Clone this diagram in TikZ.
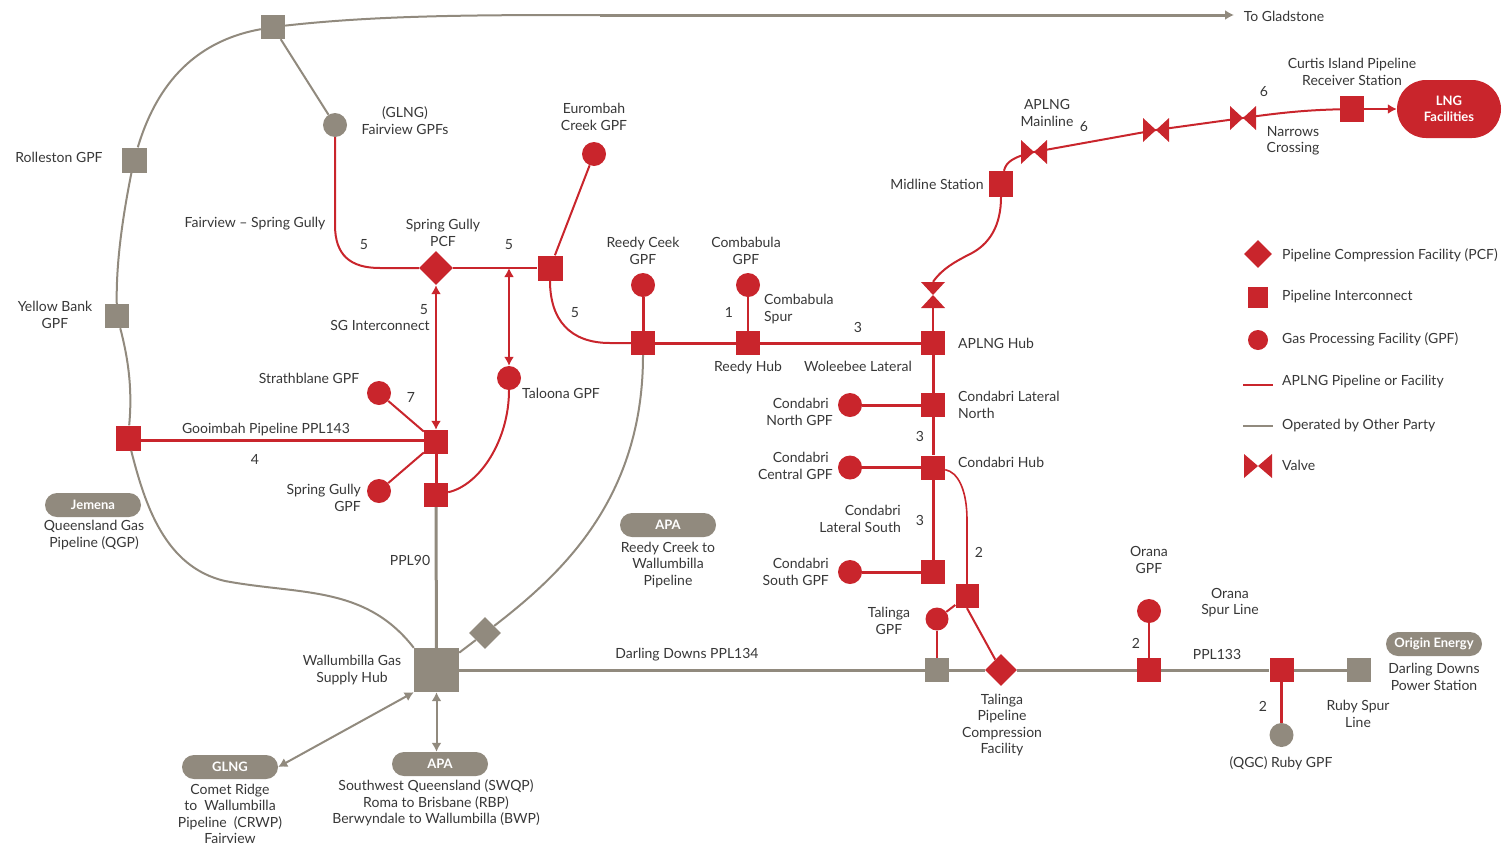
\documentclass[tikz,border=0pt]{standalone}
\usepackage{fontspec}
\setmainfont{Lato}
\definecolor{aplred}{RGB}{201, 37, 44}
\definecolor{othergray}{RGB}{145, 138, 126}
\definecolor{labeltext}{RGB}{55, 55, 55}
\usetikzlibrary{shapes.geometric, shapes.misc, arrows.meta, positioning}
\tikzset{
  lbl/.style={font=\fontsize{14}{16.5}\selectfont, text=labeltext, align=center, inner sep=0pt, yshift=-0.8pt},
  lblr/.style={lbl, anchor=east, align=right},
  lbll/.style={lbl, anchor=west, align=left},
  pill/.style={rounded rectangle, fill=othergray, text=white, minimum width=96pt, minimum height=24pt, inner sep=0pt, font=\fontsize{13}{14}\bfseries\selectfont},
  redsq/.style={rectangle, fill=aplred, minimum size=24pt, inner sep=0pt},
  graysq/.style={rectangle, fill=othergray, minimum size=24pt, inner sep=0pt},
  redgpf/.style={circle, fill=aplred, minimum size=24pt, inner sep=0pt},
  graygpf/.style={circle, fill=othergray, minimum size=24pt, inner sep=0pt},
  reddia/.style={diamond, fill=aplred, minimum size=34pt, inner sep=0pt},
  graydia/.style={diamond, fill=othergray, minimum size=32pt, inner sep=0pt},
  valveh/.style={rectangle, minimum width=26pt, minimum height=24pt, inner sep=0pt, path picture={
    \fill[aplred] (path picture bounding box.north west) -- (path picture bounding box.south east)
      -- (path picture bounding box.north east) -- (path picture bounding box.south west) -- cycle;}},
  valvev/.style={rectangle, minimum width=24pt, minimum height=26pt, inner sep=0pt, path picture={
    \fill[aplred] (path picture bounding box.north west) -- (path picture bounding box.north east)
      -- (path picture bounding box.south west) -- (path picture bounding box.south east) -- cycle;}},
  redpipe/.style={draw=aplred, line width=2pt},
  mainpipe/.style={draw=aplred, line width=3pt},
  graypipe/.style={draw=othergray, line width=2pt},
  thickgray/.style={draw=othergray, line width=3pt},
  twotip/.style={{Latex[length=9pt, width=10pt]}-{Latex[length=9pt, width=10pt]}},
  onetip/.style={-{Latex[length=9pt, width=10pt]}},
}

\begin{document}
\begin{tikzpicture}[x=1pt, y=-1pt]
  \useasboundingbox (0, 0) rectangle (1506, 846);

  % Other party stations
  \node[graysq] (topjunc) at (273, 27) {};
  \node[graysq, minimum size=25pt] (rolleston) at (134, 160) {};
  \node[graysq] (yellowbank) at (117, 316) {};
  \node[graygpf] (fairview) at (335, 125) {};
  \node[graysq, minimum width=45pt, minimum height=44pt] (wallumbilla) at (436.5, 670) {};
  \node[graydia] (apadia) at (485, 633) {};
  \node[graysq] (talgray) at (937, 670) {};
  \node[graysq] (darling) at (1359, 670) {};
  \node[graygpf] (ruby) at (1281.5, 735) {};
  \coordinate (glmid) at (600, 15);
  \coordinate (gladstone) at (1234, 15);

  % Pills
  \node[pill] (jemena) at (93, 505) {Jemena};
  \node[pill] (apareedy) at (668, 525) {APA};
  \node[pill] (origin) at (1434, 644) {Origin Energy};
  \node[pill] (glng) at (230, 767) {GLNG};
  \node[pill] (apasouth) at (440, 764) {APA};

  % APLNG west
  \node[redsq, minimum size=25pt] (gooimbah) at (128, 438) {};
  \node[reddia] (sgpcf) at (436, 268) {};
  \node[redsq, minimum size=25pt] (sgjunc) at (550, 268) {};
  \node[redgpf] (eurombah) at (594, 154) {};
  \node[redsq] (sgint) at (436, 442) {};
  \node[redsq] (ppl90end) at (436, 495) {};
  \node[redgpf] (strathblane) at (379, 393) {};
  \node[redgpf] (sgpf) at (379, 491) {};
  \node[redgpf] (taloona) at (509, 378) {};

  % APLNG centre
  \node[redgpf] (reedycirc) at (643, 285) {};
  \node[redsq] (reedysq) at (643, 343) {};
  \node[redgpf] (combcirc) at (748, 285) {};
  \node[redsq] (reedyhub) at (748, 343) {};
  \node[redsq] (aplnghub) at (933, 343) {};
  \node[valvev] (valveup) at (933, 295) {};
  \node[redsq] (lateralnth) at (933, 405) {};
  \node[redgpf] (condnth) at (850, 405) {};
  \node[redsq] (condhub) at (933, 467.5) {};
  \node[redgpf] (condcen) at (850, 467.5) {};
  \node[redsq] (lateralsth) at (933, 572) {};
  \node[redgpf] (condsth) at (850, 572) {};
  \node[redsq, minimum width=23pt] (talsq) at (967, 596) {};
  \node[redgpf, minimum size=23pt] (talcirc) at (937, 619) {};
  \node[reddia, minimum size=32pt] (taldia) at (1001, 670) {};
  \node[redgpf] (oranacirc) at (1149, 611) {};
  \node[redsq] (oranasq) at (1149, 670) {};
  \node[redsq] (rubysq) at (1281.5, 670) {};

  % APLNG mainline
  \node[redsq, minimum height=26pt] (midline) at (1001, 184) {};
  \node[valveh] (valvea) at (1034, 152) {};
  \node[valveh] (valveb) at (1156, 130) {};
  \node[valveh] (valvec) at (1243, 118) {};
  \node[redsq, minimum height=26pt] (receiver) at (1352, 109) {};
  \node[rounded rectangle, fill=aplred, minimum width=104pt, minimum height=58pt, inner sep=0pt, text=white, align=center,
    font=\fontsize{13}{16.5}\bfseries\selectfont] (lng) at (1449, 109) {LNG\\Facilities};

  % Gray pipelines
  \draw[graypipe] (topjunc) .. controls (380, 15) and (480, 15) .. (glmid);
  \draw[thickgray, onetip] (glmid) -- (gladstone);
  \draw[graypipe] (topjunc) -- (fairview);
  \draw[graypipe] (topjunc) .. controls (190, 42) and (155, 90) .. (rolleston);
  \draw[graypipe] (rolleston) .. controls (122, 220) and (116, 265) .. (yellowbank);
  \draw[graypipe] (yellowbank) .. controls (130, 365) and (132, 395) .. (gooimbah);
  \draw[graypipe] (gooimbah) .. controls (145, 505) and (165, 567) .. (225, 581) .. controls (300, 595) and (365, 585) .. (wallumbilla.north west);
  \draw[thickgray] (wallumbilla) -- (ppl90end);
  \draw[graypipe] (wallumbilla) -- (apadia);
  \draw[graypipe] (apadia) .. controls (560, 575) and (643, 500) .. (reedysq);
  \draw[thickgray] (wallumbilla) -- (talgray);
  \draw[thickgray] (talgray) -- (taldia);
  \draw[thickgray] (taldia) -- (oranasq);
  \draw[thickgray] (oranasq) -- (rubysq);
  \draw[thickgray] (rubysq) -- (darling);
  \draw[graypipe, twotip] (glng.east) -- (wallumbilla.south west);
  \draw[graypipe, twotip] (wallumbilla.south) -- (wallumbilla.south |- apasouth.north);

  % Red pipelines
  \draw[redpipe] (fairview) -- (335, 225) .. controls (335, 255) and (350, 268) .. (380, 268) -- (sgpcf);
  \draw[redpipe] (sgpcf) -- (sgjunc);
  \draw[redpipe] (sgjunc) -- (eurombah);
  \draw[redpipe] (sgjunc) .. controls (550, 320) and (570, 343) .. (610, 343) -- (reedysq);
  \draw[mainpipe] (reedysq) -- (reedyhub);
  \draw[mainpipe] (reedyhub) -- (aplnghub);
  \draw[mainpipe] (reedycirc) -- (reedysq);
  \draw[redpipe] (combcirc) -- (reedyhub);
  \draw[redpipe] (aplnghub) -- (valveup);
  \draw[redpipe] (valveup.north) .. controls (943, 268) and (955, 262) .. (968, 255) .. controls (990, 245) and (1001, 225) .. (midline);
  \draw[redpipe] (midline) .. controls (1006, 162) and (1013, 157) .. (valvea.center);
  \draw[redpipe] (valvea.center) -- (valveb.center);
  \draw[redpipe] (valveb.center) -- (valvec.center);
  \draw[redpipe] (valvec.center) .. controls (1285, 112) and (1310, 110) .. (receiver);
  \draw[redpipe, onetip] (receiver) -- (lng);
  \draw[mainpipe] ([yshift=-2pt]gooimbah.east) -- ([yshift=2pt]sgint.west);
  \draw[redpipe] (strathblane) -- (sgint);
  \draw[redpipe] (sgpf) -- (sgint);
  \draw[mainpipe] (sgint) -- (ppl90end);
  \draw[redpipe, twotip] (sgint) -- (sgpcf);
  \draw[redpipe, twotip] (taloona) -- (taloona |- sgpcf);
  \draw[redpipe] (taloona) .. controls (509, 440) and (480, 485) .. (ppl90end);
  \draw[mainpipe] (aplnghub) -- (lateralnth);
  \draw[mainpipe] (lateralnth) -- (condhub);
  \draw[mainpipe] (condhub) -- (lateralsth);
  \draw[mainpipe] (condnth) -- (lateralnth);
  \draw[mainpipe] (condcen) -- (condhub);
  \draw[mainpipe] (condsth) -- (lateralsth);
  \draw[redpipe, line width=1.6pt] (condhub) .. controls (958, 472) and (967, 490) .. (967, 520) -- (talsq);
  \draw[redpipe] (talsq) -- (talcirc);
  \draw[redpipe] (talsq.south) -- (taldia);
  \draw[redpipe, line width=2.5pt] (talcirc) -- (talgray);
  \draw[redpipe, line width=2.5pt] (oranacirc) -- (oranasq);
  \draw[redpipe, line width=2.5pt] (rubysq) -- (ruby);

  % Labels west
  \node[lbl] (lblglad) at (1284, 16) {To Gladstone};
  \node[lbl] (lblroll) at (59, 157) {Rolleston GPF};
  \node[lbl] (lblyellow) at (55, 314) {Yellow Bank\\GPF};
  \node[lbl] (lblfair) at (405, 120) {(GLNG)\\Fairview GPFs};
  \node[lbl] (lblspring) at (255, 223) {Fairview -- Spring Gully};
  \node[lbl] (lblpcf) at (443, 232) {Spring Gully\\PCF};
  \node[lbl] (lblsgint) at (380, 325) {SG Interconnect};
  \node[lbl] (lblstrath) at (309, 378) {Strathblane GPF};
  \node[lbl] (lblgoo) at (266, 429) {Gooimbah Pipeline PPL143};
  \node[lblr] (lblsgpf) at (361, 497) {Spring Gully\\GPF};
  \node[lbl] (lblppl90) at (410, 560) {PPL90};
  \node[lbl] (lblqgp) at (94, 534) {Queensland Gas\\Pipeline (QGP)};
  \node[lbl] (lblwall) at (352, 669) {Wallumbilla Gas\\Supply Hub};
  \node[lbl] (lblcomet) at (230, 813) {Comet Ridge\\to\ \ Wallumbilla\\Pipeline\ \ (CRWP)\\Fairview};
  \node[lbl] (lblswqp) at (436, 802) {Southwest Queensland (SWQP)\\Roma to Brisbane (RBP)\\Berwyndale to Wallumbilla (BWP)};
  \node[lbl] (lbltaloona) at (561, 393) {Taloona GPF};
  \node[lbl] (lbleuro) at (594, 116) {Eurombah\\Creek GPF};

  % Labels centre
  \node[lbl] (lblreedy) at (643, 250) {Reedy Ceek\\GPF};
  \node[lbl] (lblcomb) at (746, 250) {Combabula\\GPF};
  \node[lbll] (lblspur) at (764, 308) {Combabula\\Spur};
  \node[lbl] (lblhub) at (748, 367) {Reedy Hub};
  \node[lbl] (lblwol) at (858, 366) {Woleebee Lateral};
  \node[lbll] (lblaplng) at (958, 343) {APLNG Hub};
  \node[lbll] (lbllatn) at (958, 404) {Condabri Lateral\\North};
  \node[lblr] (lblcondn) at (833, 411) {Condabri\hspace*{4pt}\\North GPF};
  \node[lblr] (lblcondc) at (833, 465) {Condabri\hspace*{4pt}\\Central GPF};
  \node[lbll] (lblcondh) at (958, 462) {Condabri Hub};
  \node[lblr] (lbllats) at (901, 518) {Condabri\\Lateral South};
  \node[lblr] (lblconds) at (829, 571) {Condabri\\South GPF};
  \node[lbl] (lblapa) at (668, 564) {Reedy Creek to\\Wallumbilla\\Pipeline};
  \node[lbl] (lblppl134) at (687, 654) {Darling Downs PPL134};
  \node[lbl] (lbltal) at (889, 620) {Talinga\\GPF};
  \node[lbl] (lbltalp) at (1002, 724) {Talinga\\Pipeline\\Compression\\Facility};

  % Labels east
  \node[lbl] (lblorana) at (1149, 559) {Orana\\GPF};
  \node[lbl] (lblospur) at (1230, 602) {Orana\\Spur Line};
  \node[lbl] (lblppl133) at (1217, 654) {PPL133};
  \node[lbl] (lbldarling) at (1434, 676) {Darling Downs\\Power Station};
  \node[lbl] (lblrspur) at (1358, 713) {Ruby Spur\\Line};
  \node[lbl] (lblruby) at (1281, 762) {(QGC) Ruby GPF};
  \node[lbl] (lblmid) at (937, 184) {Midline Station};
  \node[lbl] (lblmain) at (1047, 112) {APLNG\\Mainline};
  \node[lbl] (lblnarrow) at (1293, 140) {Narrows\\Crossing};
  \node[lbl] (lblcurtis) at (1352, 71) {Curtis Island Pipeline\\Receiver Station};

  % Pipe diameters
  \node[lbl] (numa) at (364, 244) {5};
  \node[lbl] (numb) at (509, 244) {5};
  \node[lbl] (numc) at (575, 312) {5};
  \node[lbl] (numd) at (424, 309) {5};
  \node[lbl] (nume) at (411, 397) {7};
  \node[lbl] (numf) at (255, 459) {4};
  \node[lbl] (numg) at (729, 312) {1};
  \node[lbl] (numh) at (858, 327) {3};
  \node[lbl] (numi) at (920, 436) {3};
  \node[lbl] (numj) at (920, 520) {3};
  \node[lbl] (numk) at (979, 552) {2};
  \node[lbl] (numl) at (1136, 643) {2};
  \node[lbl] (numm) at (1263, 706) {2};
  \node[lbl] (numn) at (1084, 126) {6};
  \node[lbl] (numo) at (1264, 91) {6};

  % Legend
  \node[reddia, minimum size=28pt] (keypcf) at (1258, 254) {};
  \node[redsq, minimum width=20pt, minimum height=21pt] (keyint) at (1258, 297) {};
  \node[redgpf, minimum size=20pt] (keygpf) at (1258, 340) {};
  \coordinate (keyreda) at (1243, 385);
  \coordinate (keyredb) at (1273, 385);
  \coordinate (keygraya) at (1243, 426);
  \coordinate (keygrayb) at (1273, 426);
  \draw[redpipe] (keyreda) -- (keyredb);
  \draw[graypipe] (keygraya) -- (keygrayb);
  \node[valveh, minimum width=28pt] (keyvalve) at (1258, 466) {};
  \node[lbll] (txtpcf) at (1282, 254) {Pipeline Compression Facility (PCF)};
  \node[lbll] (txtint) at (1282, 296) {Pipeline Interconnect};
  \node[lbll] (txtgpf) at (1282, 339) {Gas Processing Facility (GPF)};
  \node[lbll] (txtred) at (1282, 381) {APLNG Pipeline or Facility};
  \node[lbll] (txtgray) at (1282, 425) {Operated by Other Party};
  \node[lbll] (txtvalve) at (1282, 465) {Valve};
\end{tikzpicture}
\end{document}
